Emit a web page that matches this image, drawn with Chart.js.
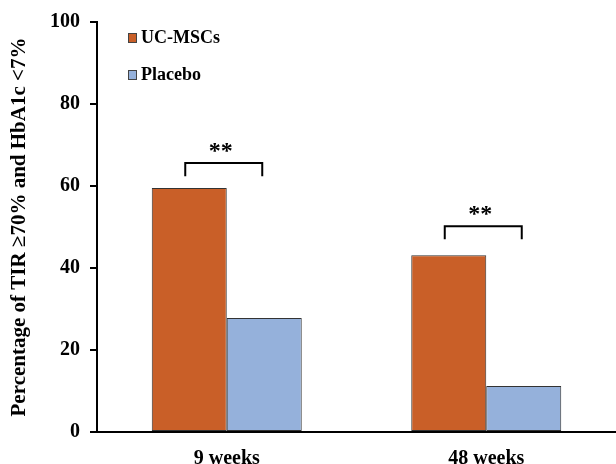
<!DOCTYPE html>
<html>
<head>
<meta charset="utf-8">
<script src="https://cdn.jsdelivr.net/npm/chart.js@4"></script>
<style>
  html, body { margin: 0; padding: 0; background: #fff; }
  #wrap { width: 616px; height: 464px; }
</style>
</head>
<body>
<div id="wrap"><canvas id="grafico"></canvas></div>
<script>
const categorias = ['9 weeks', '48 weeks'];
const ucMscs = [59.5, 43.1];
const placebo = [27.8, 11.2];
const ticksY = [0, 20, 40, 60, 80, 100];
// significance brackets, one per category (top of bracket in % units)
const marcas = ['**', '**'];
const nivelCorchete = [65.6, 50.2];
const bajadaCorchete = 3.2;

const fuente = '"Liberation Serif", "Times New Roman", serif';

// brackets + stars drawn on top of the bars
const pluginCorchetes = {
    id: 'corchetes',
    afterDatasetsDraw(chart) {
        const c = chart.ctx;
        const y = chart.scales.y;
        const barrasA = chart.getDatasetMeta(0).data;
        const barrasB = chart.getDatasetMeta(1).data;
        c.save();
        c.strokeStyle = '#000';
        c.lineWidth = 2;
        c.fillStyle = '#000';
        c.font = 'bold 24px ' + fuente;
        c.textAlign = 'center';
        c.textBaseline = 'alphabetic';
        marcas.forEach((txt, i) => {
            const x1 = barrasA[i].x - 4;
            const x2 = barrasB[i].x - 2;
            const yTop = y.getPixelForValue(nivelCorchete[i]);
            const yLeg = y.getPixelForValue(nivelCorchete[i] - bajadaCorchete);
            c.beginPath();
            c.moveTo(x1, yLeg);
            c.lineTo(x1, yTop);
            c.lineTo(x2, yTop);
            c.lineTo(x2, yLeg);
            c.stroke();
            c.fillText(txt, (x1 + x2) / 2 - 3, yTop - 5);
        });
        c.restore();
    }
};

// vertical legend inside the plot, top-left
const pluginLeyenda = {
    id: 'leyendaVertical',
    afterDraw(chart) {
        const c = chart.ctx;
        c.save();
        c.font = 'bold 18px ' + fuente;
        c.textBaseline = 'alphabetic';
        c.textAlign = 'left';
        chart.data.datasets.forEach((ds, i) => {
            const base = 43 + i * 37;
            c.fillStyle = ds.backgroundColor;
            c.fillRect(128, base - 10, 9, 10);
            c.strokeStyle = '#444';
            c.lineWidth = 1;
            c.strokeRect(128.5, base - 9.5, 8, 9);
            c.fillStyle = '#000';
            c.fillText(ds.label, 141, base);
        });
        c.restore();
    }
};

const ctx = document.getElementById('grafico').getContext('2d');
new Chart(ctx, {
    type: 'bar',
    data: {
        labels: categorias,
        datasets: [
            { label: 'UC-MSCs', data: ucMscs, backgroundColor: '#C95F28', borderColor: '#333', borderWidth: 1, borderSkipped: false },
            { label: 'Placebo', data: placebo, backgroundColor: '#95B1DB', borderColor: '#333', borderWidth: 1, borderSkipped: false }
        ]
    },
    options: {
        responsive: true,
        maintainAspectRatio: false,
        animation: false,
        layout: { padding: { top: 22, right: 0, left: 0, bottom: 0 } },
        categoryPercentage: 0.578,
        barPercentage: 1.0,
        plugins: {
            legend: { display: false },
            tooltip: { enabled: false }
        },
        scales: {
            x: {
                grid: { display: false },
                border: { display: true, color: '#000', width: 2 },
                ticks: { color: '#000', padding: 7, font: { family: fuente, size: 20, weight: 'bold' } },
                afterFit: s => { s.height = 32; }
            },
            y: {
                min: 0,
                max: 100,
                afterBuildTicks: s => { s.ticks = ticksY.map(v => ({ value: v })); },
                grid: { drawOnChartArea: false, drawTicks: true, tickLength: 7, color: '#000', lineWidth: 2 },
                border: { display: true, color: '#000', width: 2 },
                ticks: { color: '#000', padding: 10, font: { family: fuente, size: 20, weight: 'bold' } },
                title: {
                    display: true,
                    text: 'Percentage of TIR \u226570% and HbA1c <7%',
                    color: '#000',
                    padding: { top: 7, bottom: 0 },
                    font: { family: fuente, size: 21, weight: 'bold' }
                },
                afterFit: s => { s.width = 97; }
            }
        }
    },
    plugins: [pluginCorchetes, pluginLeyenda]
});
</script>
</body>
</html>
